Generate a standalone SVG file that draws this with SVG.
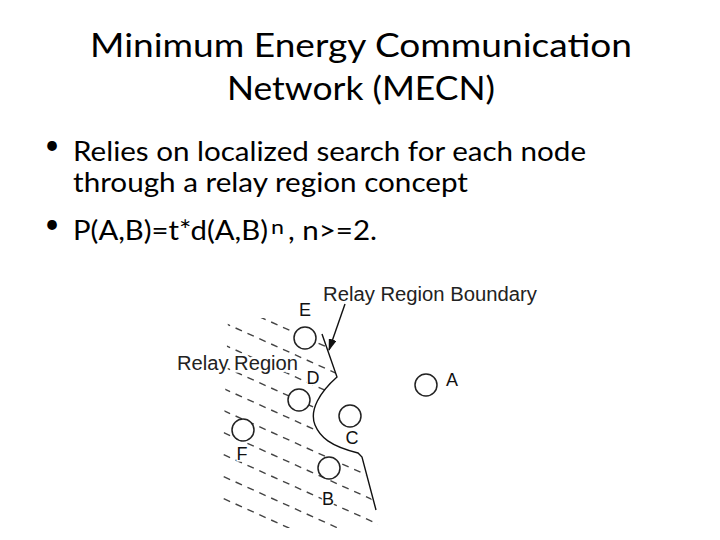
<svg xmlns="http://www.w3.org/2000/svg" width="720" height="540" viewBox="0 0 720 540">
<style>
.title{font-family:Lato,"Open Sans","Liberation Sans",sans-serif;font-size:33px;fill:#000;text-anchor:middle}
.body{font-family:Lato,"Open Sans","Liberation Sans",sans-serif;font-size:26px;fill:#000}
.lbl{font-family:"Liberation Sans",Arial,sans-serif;font-size:18px;fill:#111;text-anchor:middle;stroke:#fff;stroke-width:3;paint-order:stroke}
.cap{font-family:"Liberation Sans",Arial,sans-serif;font-size:20px;fill:#222}
.node{fill:#fff;stroke:#222;stroke-width:1.5}
.dash{stroke:#444;stroke-width:1.4;stroke-dasharray:7 6;fill:none}
.bd{stroke:#111;stroke-width:1.4;fill:none}
</style>
<defs>
<marker id="ah" viewBox="0 0 12 8" refX="11" refY="4" markerWidth="12" markerHeight="8" orient="auto" markerUnits="userSpaceOnUse">
<path d="M0,0 L12,4 L0,8 z" fill="#111"/>
</marker>
<clipPath id="reg">
<path d="M228,318 L318,318 L322,334 L337,377 C320,392 309,410 315,425 C320,437 330,446 358,453 L362,457 L378,528 L220,528 Z"/>
</clipPath>
</defs>
<rect width="720" height="540" fill="#fff"/>
<g id="title">
<text class="title" x="361" y="56.5" textLength="542" lengthAdjust="spacingAndGlyphs">Minimum Energy Communication</text>
<text class="title" x="361" y="100" textLength="268" lengthAdjust="spacingAndGlyphs">Network (MECN)</text>
</g>
<g id="bullets">
<text class="body" x="52" y="154" font-size="20" text-anchor="middle">•</text>
<text class="body" x="73" y="161" textLength="513" lengthAdjust="spacingAndGlyphs">Relies on localized search for each node</text>
<text class="body" x="73" y="192" textLength="395" lengthAdjust="spacingAndGlyphs">through a relay region concept</text>
<text class="body" x="52" y="233" font-size="20" text-anchor="middle">•</text>
<text class="body" x="73" y="240"><tspan textLength="195" lengthAdjust="spacingAndGlyphs">P(A,B)=t*d(A,B)</tspan><tspan x="271" y="234" font-size="19" textLength="13" lengthAdjust="spacingAndGlyphs">n</tspan><tspan x="288" y="240" textLength="89" lengthAdjust="spacingAndGlyphs">, n&gt;=2.</tspan></text>
</g>
<g id="connectors">
<g clip-path="url(#reg)">
<line class="dash" x1="200" y1="290" x2="420" y2="389"/>
<line class="dash" x1="200" y1="312" x2="420" y2="411"/>
<line class="dash" x1="200" y1="334" x2="420" y2="433"/>
<line class="dash" x1="200" y1="356" x2="420" y2="455"/>
<line class="dash" x1="200" y1="378" x2="420" y2="477"/>
<line class="dash" x1="200" y1="400" x2="420" y2="499"/>
<line class="dash" x1="200" y1="422" x2="420" y2="521"/>
<line class="dash" x1="200" y1="444" x2="420" y2="543"/>
<line class="dash" x1="200" y1="466" x2="420" y2="565"/>
<line class="dash" x1="200" y1="488" x2="420" y2="587"/>
</g>
<path id="boundary" class="bd" d="M322,334 L337,377 C320,392 309,410 315,425 C320,437 330,446 358,453 L362,457 L376,510"/>
<line class="bd" x1="345" y1="304" x2="329" y2="350" marker-end="url(#ah)"/>
</g>
<g id="captions">
<text class="cap" x="177" y="370" textLength="121" lengthAdjust="spacingAndGlyphs" stroke="#fff" stroke-width="5" paint-order="stroke">Relay Region</text>
<text class="cap" x="323" y="301" textLength="214" lengthAdjust="spacingAndGlyphs">Relay Region Boundary</text>
</g>
<g id="node-E"><circle class="node" cx="305" cy="338" r="11"/><text class="lbl" x="305" y="316">E</text></g>
<g id="node-D"><circle class="node" cx="299" cy="400" r="11"/><text class="lbl" x="313" y="384">D</text></g>
<g id="node-A"><circle class="node" cx="426" cy="385" r="11"/><text class="lbl" x="452" y="386">A</text></g>
<g id="node-C"><circle class="node" cx="350" cy="416" r="11"/><text class="lbl" x="352" y="444">C</text></g>
<g id="node-F"><circle class="node" cx="243" cy="430" r="11"/><text class="lbl" x="242" y="460">F</text></g>
<g id="node-B"><circle class="node" cx="329" cy="468" r="11"/><text class="lbl" x="328" y="505">B</text></g>
</svg>
